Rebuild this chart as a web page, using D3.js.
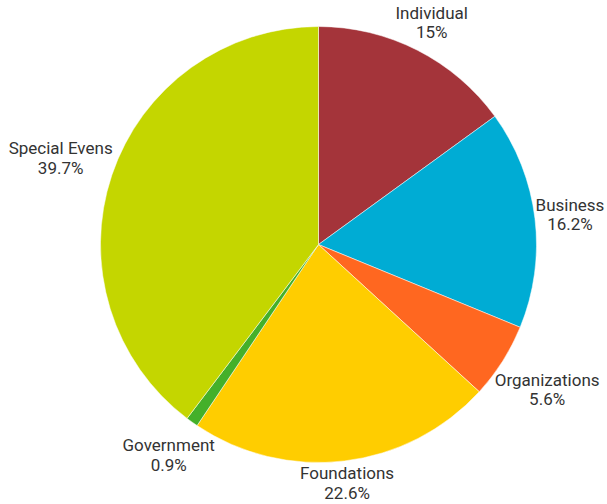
<!DOCTYPE html>
<html><head><meta charset="utf-8">
<script src="https://cdn.jsdelivr.net/npm/d3@7"></script>
<style>body{margin:0;background:#fff;}svg{display:block;}</style>
</head><body>
<svg id="chart" width="607" height="504"></svg>
<script>
const categories = ["Individual","Business","Organizations","Foundations","Government","Special Evens"];
const values = [15, 16.2, 5.6, 22.6, 0.9, 39.7];
const valueLabels = ["15%","16.2%","5.6%","22.6%","0.9%","39.7%"];
const colors = ["#a4343a","#00acd4","#ff6720","#ffcd00","#44b02a","#c4d600"];

const W = 607, H = 504, cx = 318.5, cy = 244.5, r = 218, labelR = 217;
const svg = d3.select("#chart");
const g = svg.append("g").attr("transform", `translate(${cx},${cy})`);
const data = categories.map((c,i)=>({cat:c, value:values[i], label:valueLabels[i], color:colors[i]}));
const pie = d3.pie().value(d=>d.value).sort(null);
const arc = d3.arc().innerRadius(0).outerRadius(r);
const arcs = pie(data);
g.selectAll("path").data(arcs).join("path")
  .attr("d", arc).attr("fill", d=>d.data.color)
  .attr("stroke","#fff").attr("stroke-width",0.5);

const fs = 17, lh = 19.5;
const lg = g.selectAll("g.lab").data(arcs).join("g").attr("class","lab");
lg.each(function(d){
  const sel = d3.select(this);
  const a = (d.startAngle + d.endAngle)/2;
  const t = sel.append("text").attr("font-family","Roboto, sans-serif").attr("font-size",fs)
    .attr("fill","#333").attr("text-anchor","middle");
  t.append("tspan").attr("x",0).attr("y",0).text(d.data.cat);
  t.append("tspan").attr("x",0).attr("y",lh).text(d.data.label);
  const bb = t.node().getBBox();
  const w = bb.width, h = bb.height - 4;
  const s = Math.sin(a), c = Math.cos(a);
  const dist = labelR + Math.abs(s)*w/2 + Math.abs(c)*h/2;
  const px = dist*s, py = -dist*c;
  t.attr("transform", `translate(${px},${py - (bb.y + bb.height/2)})`);
});
</script>
</body></html>
